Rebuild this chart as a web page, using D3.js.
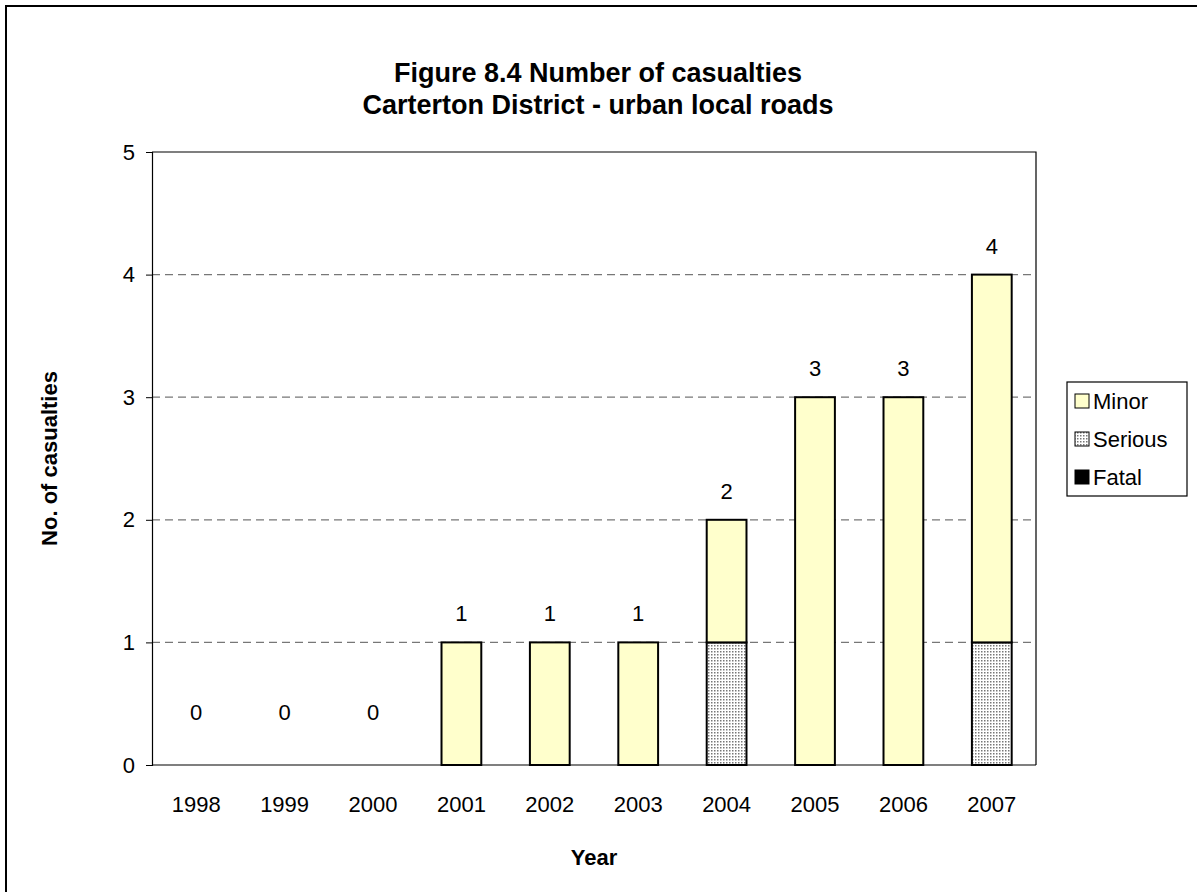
<!DOCTYPE html>
<html><head><meta charset="utf-8">
<script src="https://cdn.jsdelivr.net/npm/d3@7"></script>
<style>body{margin:0;background:#fff}svg{display:block}text{font-family:"Liberation Sans",Arial,sans-serif}</style>
</head><body>
<svg id="c" width="1197" height="892"></svg>
<script>
const years = ["1998","1999","2000","2001","2002","2003","2004","2005","2006","2007"];
const fatal = [0,0,0,0,0,0,0,0,0,0];
const serious = [0,0,0,0,0,0,1,0,0,1];
const minor = [0,0,0,1,1,1,1,3,3,3];
const yTicks = [0,1,2,3,4,5];
const seriesNames = ["Fatal","Serious","Minor"];

const FS = 22;
const svg = d3.select("#c");
const defs = svg.append("defs");
const pat = defs.append("pattern").attr("id","dots").attr("patternUnits","userSpaceOnUse")
  .attr("width",3).attr("height",3);
pat.append("rect").attr("width",3).attr("height",3).attr("fill","#fff");
pat.append("rect").attr("x",0).attr("y",0).attr("width",1.5).attr("height",1.5).attr("fill","#777");

const fills = {Fatal:"#000", Serious:"url(#dots)", Minor:"#FFFFCC"};

// outer border
svg.append("rect").attr("x",6).attr("y",6).attr("width",1200).attr("height",900)
  .attr("fill","none").attr("stroke","#000").attr("stroke-width",2);

const L=152, R=1036, T=152, B=765;
const x = d3.scaleBand().domain(years).range([L,R]).paddingInner(0.55).paddingOuter(0.275);
const y = d3.scaleLinear().domain([0,5]).range([B,T]);

// gridlines
svg.append("g").selectAll("line").data(yTicks.filter(d=>d>0&&d<5)).join("line")
  .attr("x1",L).attr("x2",R).attr("y1",d=>y(d)).attr("y2",d=>y(d))
  .attr("stroke","#777").attr("stroke-width",1.3).attr("stroke-dasharray","8,5");

// plot frame top/right
svg.append("path").attr("d",`M${L},${T}H${R}V${B}`).attr("fill","none").attr("stroke","#000").attr("stroke-width",1.2);

// stacked data
const data = years.map((yr,i)=>({year:yr, Fatal:fatal[i], Serious:serious[i], Minor:minor[i]}));
const stack = d3.stack().keys(seriesNames)(data);
stack.forEach(layer=>{
  svg.append("g").selectAll("rect").data(layer.filter(d=>d[1]-d[0]>0)).join("rect")
    .attr("x",d=>x(d.data.year)).attr("width",x.bandwidth())
    .attr("y",d=>y(d[1])).attr("height",d=>y(d[0])-y(d[1]))
    .attr("fill",fills[layer.key]).attr("stroke","#000").attr("stroke-width",2);
});

// axes
const ya = svg.append("g").attr("transform",`translate(${L},0)`)
  .call(d3.axisLeft(y).tickValues(yTicks).tickSize(6).tickPadding(11).tickFormat(d3.format("d")));
ya.select(".domain").attr("stroke","#000").attr("stroke-width",1.2);
ya.selectAll("text").attr("font-size",FS).attr("fill","#000").attr("font-family","Liberation Sans, Arial, sans-serif");
const xa = svg.append("g").attr("transform",`translate(0,${B})`)
  .call(d3.axisBottom(x).tickSize(0).tickPadding(31));
xa.select(".domain").attr("stroke","#000").attr("stroke-width",1.2).attr("d",`M${L},0H${R}`);
xa.selectAll("text").attr("font-size",FS).attr("fill","#000").attr("font-family","Liberation Sans, Arial, sans-serif");

// total labels
svg.append("g").selectAll("text").data(data).join("text")
  .attr("x",d=>x(d.year)+x.bandwidth()/2)
  .attr("y",d=>{const t=d.Fatal+d.Serious+d.Minor; return t>0? y(t)-21 : y(0)-45;})
  .attr("text-anchor","middle").attr("font-size",FS)
  .text(d=>d.Fatal+d.Serious+d.Minor);

// titles
svg.append("text").attr("x",598).attr("y",82).attr("text-anchor","middle").attr("font-size",27).attr("font-weight","bold").text("Figure 8.4 Number of casualties");
svg.append("text").attr("x",598).attr("y",114).attr("text-anchor","middle").attr("font-size",27).attr("font-weight","bold").text("Carterton District - urban local roads");
svg.append("text").attr("x",(L+R)/2).attr("y",865).attr("text-anchor","middle").attr("font-size",FS).attr("font-weight","bold").text("Year");
svg.append("text").attr("transform",`translate(57,${(T+B)/2}) rotate(-90)`).attr("text-anchor","middle").attr("font-size",FS).attr("font-weight","bold").text("No. of casualties");

// legend
const lg = svg.append("g");
lg.append("rect").attr("x",1067).attr("y",382).attr("width",120).attr("height",114).attr("fill","#fff").attr("stroke","#000").attr("stroke-width",1.2);
const legItems = ["Minor","Serious","Fatal"];
legItems.forEach((k,i)=>{
  const cy = 401 + i*38;
  lg.append("rect").attr("x",1075).attr("y",cy-7).attr("width",14).attr("height",14)
    .attr("fill",fills[k]).attr("stroke","#000").attr("stroke-width",1);
  lg.append("text").attr("x",1093).attr("y",cy+8).attr("font-size",FS).text(k);
});
</script>
</body></html>
